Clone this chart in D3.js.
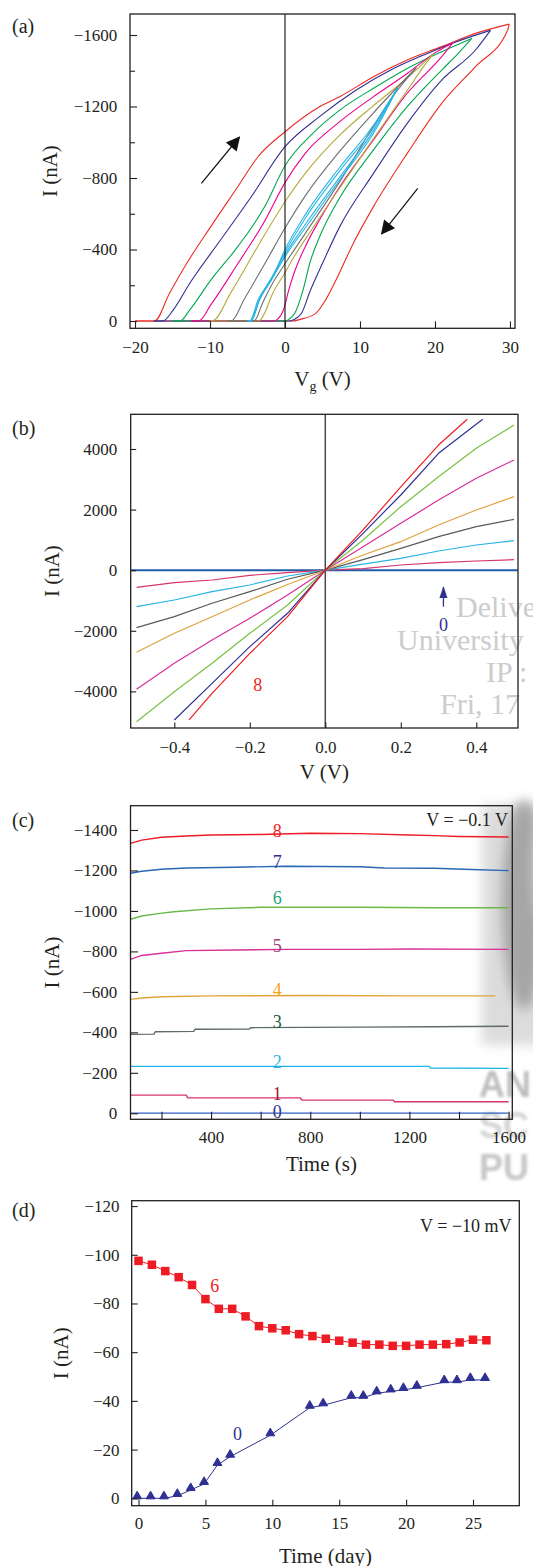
<!DOCTYPE html>
<html>
<head>
<meta charset="utf-8">
<script src="https://cdn.jsdelivr.net/npm/d3@7"></script>
<style>
  body { margin: 0; background: #fff; }
  svg { display: block; }
</style>
</head>
<body>
<svg id="fig" width="533" height="1566"></svg>
<script>
// ---------- (a) transfer loops: I (nA) vs Vg (V), one loop per sweep range ----------
const loopColors = ["#ee2a24", "#2e3192", "#00a651", "#ec008c", "#b5a83a", "#6d6e71", "#27b4e6", "#27b4e6"];
const loopUp = [
  [[-20,0],[-17.4,0],[-15.4,-155],[-13.1,-323],[-9.9,-528],[-6.3,-751],[-3.6,-919],[0,-1059],[4.6,-1199],[7.3,-1255],[11.8,-1367],[16.3,-1460],[20.9,-1535],[25.4,-1609],[29.9,-1661]],
  [[-17.5,0],[-16.3,0],[-14.9,-62],[-12.7,-211],[-8.6,-453],[-4.5,-695],[0,-975],[4.6,-1143],[9.5,-1292],[14.1,-1404],[18.6,-1490],[22.7,-1560],[27.4,-1626]],
  [[-15,0],[-14,0],[-12.7,-62],[-9.9,-229],[-6.3,-416],[-2.7,-640],[0,-869],[3.7,-1050],[7.3,-1180],[11.8,-1302],[16.3,-1413],[20.9,-1507],[24.9,-1581]],
  [[-12.5,0],[-11.5,0],[-9.9,-90],[-6.3,-320],[-2.7,-560],[0,-774],[2.7,-938],[7.3,-1115],[11.8,-1255],[16.3,-1385],[20,-1500],[22.4,-1557]],
  [[-10,0],[-9.7,0],[-7.2,-160],[-3.6,-420],[0,-667],[2.7,-826],[7.3,-1040],[11.8,-1205],[16.3,-1360],[19.8,-1495]],
  [[-7.5,0],[-7.2,0],[-5.4,-125],[-2.7,-320],[0,-520],[2.7,-700],[7.3,-950],[11.8,-1165],[17.5,-1417]],
  [[-5,0],[-4.7,0],[-3.6,-117],[-1.8,-240],[0,-385],[2.7,-575],[7.3,-840],[11.8,-1080],[15,-1302]],
  [[-5,0],[-4.5,0],[-3.4,-120],[-1.6,-250],[0,-400],[2.7,-595],[7.3,-860],[11.8,-1095],[15,-1302]]
];
const loopDown = [
  [[29.9,-1661],[29.7,-1628],[25.4,-1423],[20.9,-1218],[16.3,-938],[11.8,-640],[9.1,-434],[6.8,-229],[5.4,-117],[4.1,-43],[2,-9],[1,0],[-20,0]],
  [[27.4,-1626],[25.4,-1516],[20.9,-1348],[16.3,-1106],[11.8,-826],[7.3,-528],[5,-323],[3.4,-173],[2.2,-43],[1.2,-9],[0.5,0],[-17.5,0]],
  [[24.9,-1581],[23.1,-1497],[20.9,-1404],[16.3,-1199],[11.8,-957],[7.3,-690],[4.8,-490],[3.3,-323],[2.4,-173],[1.3,-43],[0.5,-9],[0,0],[-15,0]],
  [[22.4,-1557],[20.9,-1479],[16.3,-1274],[11.8,-1013],[7.3,-751],[4.6,-565],[2.7,-416],[1.2,-267],[0.5,-173],[-0.2,-62],[-1,-9],[-1.5,0],[-12.5,0]],
  [[19.8,-1495],[18.6,-1430],[16.3,-1290],[11.8,-1020],[7.3,-745],[3.7,-520],[1,-345],[0,-270],[-1.8,-140],[-2.7,-45],[-3.2,-9],[-3.5,0],[-10,0]],
  [[17.5,-1417],[14.1,-1240],[11.8,-1090],[7.3,-780],[2.7,-490],[0,-320],[-1.8,-200],[-3.2,-80],[-3.8,-15],[-4.2,0],[-7.5,0]],
  [[15,-1302],[11.8,-1050],[7.3,-790],[2.7,-520],[0,-360],[-1.8,-230],[-3.6,-100],[-4.3,-20],[-4.6,0],[-5,0]],
  [[15,-1302],[11.8,-1065],[7.3,-805],[2.7,-540],[0,-372],[-1.8,-240],[-3.5,-110],[-4.2,-25],[-4.5,0],[-5,0]]
];
const sweepArrows = [ [[-11.15,-770],[-6.1,-1028]], [[17.7,-742],[12.9,-488]] ];
const vgTicks = [-20, -10, 0, 10, 20, 30];
const iaTicks = [0, -400, -800, -1200, -1600];
const iaMinor = [-200, -600, -1000, -1400];

// ---------- (b) I-V curves, states 0..8 ----------
const ivColors = ["#1f5ea8", "#d6336b", "#27b4e6", "#58595b", "#dfa23b", "#d62f9b", "#7ac143", "#2e3192", "#ed1c24"];
const ivCurves = [
  [[-0.515,0],[0.51,0]],
  [[-0.5,-565],[-0.4,-412],[-0.3,-323],[-0.2,-169],[-0.1,-80],[0,0],[0.1,50],[0.2,172],[0.3,248],[0.4,304],[0.5,348]],
  [[-0.5,-1204],[-0.4,-983],[-0.3,-709],[-0.2,-488],[-0.1,-191],[0,0],[0.1,200],[0.2,392],[0.3,634],[0.4,832],[0.5,975]],
  [[-0.5,-1897],[-0.4,-1534],[-0.3,-1092],[-0.2,-709],[-0.1,-300],[0,0],[0.1,350],[0.2,722],[0.3,1106],[0.4,1436],[0.5,1679]],
  [[-0.5,-2710],[-0.4,-2083],[-0.3,-1534],[-0.2,-983],[-0.1,-470],[0,0],[0.1,500],[0.2,941],[0.3,1492],[0.4,1987],[0.5,2426]],
  [[-0.5,-3931],[-0.4,-3073],[-0.3,-2303],[-0.2,-1587],[-0.1,-818],[0,0],[0.1,776],[0.2,1548],[0.3,2317],[0.4,3032],[0.5,3637]],
  [[-0.5,-4999],[-0.4,-4009],[-0.3,-3073],[-0.2,-2083],[-0.1,-1148],[0,0],[0.1,997],[0.2,2096],[0.3,3087],[0.4,4022],[0.5,4791]],
  [[-0.4,-4943],[-0.3,-3733],[-0.2,-2524],[-0.1,-1423],[0,0],[0.1,1217],[0.2,2482],[0.3,3857],[0.417,4980]],
  [[-0.361,-4943],[-0.3,-4063],[-0.2,-2743],[-0.1,-1534],[0,0],[0.1,1330],[0.2,2750],[0.3,4130],[0.376,4980]]
];
const vTicks = [-0.4, -0.2, 0, 0.2, 0.4];
const ibTicks = [-4000, -2000, 0, 2000, 4000];

// ---------- (c) retention at V = -0.1 V ----------
const rtColors = ["#2c5cc5", "#d8336f", "#1fb5e6", "#5f6b6b", "#e0a33a", "#d9309a", "#6ab845", "#2a67b5", "#ed1c24"];
const rtLabelColors = ["#2e3192", "#9b1b30", "#27b4e6", "#1d5b3b", "#f7a21b", "#9e3f78", "#1fa37f", "#2e3192", "#ed1c24"];
const rtLabels = ["0", "1", "2", "3", "4", "5", "6", "7", "8"];
const rtLabelPos = [[667,-8],[667,-99],[667,-255],[667,-453],[667,-609],[667,-828],[667,-1067],[667,-1243],[667,-1397]];
const rtSeries = [
  [[75,-1],[1600,-1]],
  [[75,-90],[300,-90],[305,-77],[760,-76],[765,-66],[1135,-65],[1140,-57],[1600,-57]],
  [[75,-232],[1280,-232],[1285,-224],[1600,-222]],
  [[75,-390],[170,-391],[175,-403],[330,-405],[335,-415],[555,-416],[560,-423],[1000,-426],[1300,-428],[1600,-430]],
  [[75,-563],[120,-570],[200,-576],[400,-580],[800,-582],[1200,-580],[1547,-580]],
  [[75,-761],[120,-780],[200,-791],[300,-804],[500,-807],[700,-810],[1000,-810],[1200,-812],[1600,-810]],
  [[75,-959],[120,-975],[194,-988],[250,-996],[400,-1010],[600,-1018],[1000,-1018],[1300,-1016],[1600,-1016]],
  [[75,-1186],[120,-1196],[200,-1206],[300,-1212],[500,-1216],[700,-1221],[1000,-1218],[1100,-1212],[1300,-1211],[1450,-1205],[1600,-1199]],
  [[75,-1334],[120,-1350],[200,-1364],[300,-1370],[400,-1375],[600,-1378],[800,-1384],[1000,-1382],[1200,-1375],[1300,-1372],[1400,-1368],[1600,-1365]]
];
const timeTicks = [200, 400, 600, 800, 1000, 1200, 1400, 1600];
const icTicks = [0, -200, -400, -600, -800, -1000, -1200, -1400];

// ---------- (d) long-term stability at V = -10 mV ----------
const daysState6 = [0,1,2,3,4,5,6,7,8,9,10,11,12,13,14,15,16,17,18,19,20,21,22,23,24,25,26];
const iState6 = [-97.5,-95.9,-93.3,-90.8,-87.6,-81.8,-77.8,-77.8,-74.7,-70.7,-69.8,-69.0,-67.4,-66.6,-65.5,-64.7,-63.9,-63.1,-63.1,-62.6,-62.6,-63.1,-63.1,-63.3,-64.0,-65.1,-64.9];
const daysState0 = [-0.1,0.9,1.9,2.9,3.9,4.9,5.9,6.85,9.85,12.8,13.8,15.9,16.8,17.8,18.85,19.8,20.8,22.85,23.8,24.8,25.9];
const iState0 = [0,0,0,-1,-3.4,-5.9,-13.7,-17.1,-25.9,-37.2,-38.2,-41.3,-41.3,-43.1,-43.9,-44.5,-45.4,-47.7,-47.7,-48.6,-48.6];
const dayTicks = [0, 5, 10, 15, 20, 25];
const idTicks = [0, -20, -40, -60, -80, -100, -120];

const FONT = "'Liberation Serif','DejaVu Serif','Times New Roman',serif";
const INK = "#231f20";
const svg = d3.select("#fig").attr("font-family", FONT);
const defs = svg.append("defs");
defs.append("filter").attr("id", "soft").attr("x", "-50%").attr("y", "-50%").attr("width", "200%").attr("height", "200%")
  .append("feGaussianBlur").attr("stdDeviation", 6);
defs.append("filter").attr("id", "soft2").attr("x", "-20%").attr("y", "-20%").attr("width", "140%").attr("height", "140%")
  .append("feGaussianBlur").attr("stdDeviation", 1.8);
defs.append("marker").attr("id", "headA").attr("viewBox", "0 0 10 10").attr("refX", 9).attr("refY", 5)
  .attr("markerWidth", 16).attr("markerHeight", 14).attr("markerUnits", "userSpaceOnUse").attr("orient", "auto")
  .append("path").attr("d", "M0,0 L10,5 L0,10 Z").attr("fill", "#111");

// ---- watermark remnants behind the figure ----
const wm = svg.append("g");
[["Delive", 456, 617], ["University", 397, 650], ["IP :", 486, 682], ["Fri, 17", 440, 714]].forEach(([t, x, y]) => {
  wm.append("text").attr("x", x).attr("y", y).attr("font-size", 30).attr("fill", "#cccccc").text(t);
});
wm.append("rect").attr("x", 482).attr("y", 805).attr("width", 70).attr("height", 240).attr("fill", "#dcdcdc").attr("filter", "url(#soft)");
wm.append("ellipse").attr("cx", 524).attr("cy", 905).attr("rx", 22).attr("ry", 105).attr("fill", "#a6a6a6").attr("filter", "url(#soft)");
wm.append("ellipse").attr("cx", 542).attr("cy", 870).attr("rx", 9).attr("ry", 50).attr("fill", "#d0d0d0").attr("filter", "url(#soft)");
[["AN", 1097, "#bdbdbd"], ["SC", 1138, "#d4d4d4"], ["PU", 1180, "#c6c6c6"]].forEach(([t, y, c]) => {
  wm.append("text").attr("x", 479).attr("y", y).attr("font-family", "'Liberation Sans',sans-serif")
    .attr("font-weight", "bold").attr("font-size", 36).attr("fill", c).attr("filter", "url(#soft2)").text(t);
});

// ---- shared panel helpers ----
let clipN = 0;
function makePanel(box, xDomain, yDomain) {
  const x = d3.scaleLinear().domain(xDomain).range([box.left, box.right]);
  const y = d3.scaleLinear().domain(yDomain).range([box.bottom, box.top]);
  const id = "clip" + (clipN++);
  defs.append("clipPath").attr("id", id).append("rect")
    .attr("x", box.left).attr("y", box.top).attr("width", box.right - box.left).attr("height", box.bottom - box.top);
  const g = svg.append("g");
  const plot = g.append("g").attr("clip-path", `url(#${id})`);
  return { x, y, g, plot, box };
}

function styleAxis(sel) {
  sel.select(".domain").remove();
  sel.selectAll("line").attr("stroke", INK).attr("stroke-width", 1.1);
  sel.selectAll("text").attr("font-family", FONT).attr("font-size", 17).attr("fill", INK);
}

function drawAxes(p, o) {
  const b = p.box;
  p.g.append("g").attr("transform", `translate(0,${b.bottom})`)
    .call(d3.axisBottom(p.x).tickValues(o.xTicks).tickSize(-o.tick).tickPadding(o.xPad).tickFormat(o.xFormat))
    .call(styleAxis);
  p.g.append("g").attr("transform", `translate(${b.left},0)`)
    .call(d3.axisLeft(p.y).tickValues(o.yTicks).tickSize(-o.tick).tickPadding(o.yPad).tickFormat(o.yFormat))
    .call(styleAxis);
  if (o.yMinor) p.g.append("g").attr("transform", `translate(${b.left},0)`)
    .call(d3.axisLeft(p.y).tickValues(o.yMinor).tickSize(-5).tickFormat(""))
    .call(styleAxis);
  p.g.append("rect").attr("x", b.left).attr("y", b.top)
    .attr("width", b.right - b.left).attr("height", b.bottom - b.top)
    .attr("fill", "none").attr("stroke", INK).attr("stroke-width", 1.3);
  p.g.append("text").attr("x", 12).attr("y", o.letterY).attr("font-size", 20).attr("fill", INK).text(o.letter);
  p.g.append("text").attr("transform", `translate(${o.yTitleX},${(b.top + b.bottom) / 2}) rotate(-90)`)
    .attr("text-anchor", "middle").attr("font-size", 21).attr("fill", INK).text("I (nA)");
  const xt = p.g.append("text").attr("x", (b.left + b.right) / 2).attr("y", o.xTitleY)
    .attr("text-anchor", "middle").attr("font-size", 21).attr("fill", INK);
  if (o.xSub) {
    xt.append("tspan").text(o.xTitle);
    xt.append("tspan").attr("font-size", 14).attr("dy", 5).text(o.xSub);
    xt.append("tspan").attr("dy", -5).text(" (V)");
  } else {
    xt.text(o.xTitle);
  }
}

const fmtInt = d3.format("d");
const fmt1 = d3.format(".1f");

// ================= (a) =================
const pa = makePanel({ left: 130, right: 515, top: 14, bottom: 328.3 }, [-20.67, 30.67], [40.8, -1717.5]);
const lineA = d3.line().x(d => pa.x(d[0])).y(d => pa.y(d[1])).curve(d3.curveMonotoneX);
loopUp.forEach((up, k) => {
  const down = loopDown[k].slice().reverse();
  [up, down].forEach(branch => {
    pa.plot.append("path").attr("d", lineA(branch))
      .attr("fill", "none").attr("stroke", loopColors[k]).attr("stroke-width", 1.1).attr("stroke-linejoin", "round");
  });
});
pa.plot.append("line").attr("x1", pa.x(0)).attr("x2", pa.x(0)).attr("y1", pa.box.top).attr("y2", pa.box.bottom)
  .attr("stroke", "#111").attr("stroke-width", 1.1);
sweepArrows.forEach(([a, b]) => {
  pa.g.append("line").attr("x1", pa.x(a[0])).attr("y1", pa.y(a[1])).attr("x2", pa.x(b[0])).attr("y2", pa.y(b[1]))
    .attr("stroke", "#111").attr("stroke-width", 1.2).attr("marker-end", "url(#headA)");
});
drawAxes(pa, {
  xTicks: vgTicks, yTicks: iaTicks, yMinor: iaMinor, tick: 7, xPad: 12.3, yPad: 12.7,
  xFormat: fmtInt, yFormat: fmtInt, letter: "(a)", letterY: 33, yTitleX: 57, xTitleY: 386,
  xTitle: "V", xSub: "g"
});

// ================= (b) =================
const pb = makePanel({ left: 130.7, right: 518, top: 414.3, bottom: 728 }, [-0.5155, 0.5105], [-5208, 5145]);
const lineB = d3.line().x(d => pb.x(d[0])).y(d => pb.y(d[1]));
pb.plot.append("line").attr("x1", pb.x(0)).attr("x2", pb.x(0)).attr("y1", pb.box.top).attr("y2", pb.box.bottom)
  .attr("stroke", "#4a4a4a").attr("stroke-width", 1.5);
ivCurves.forEach((c, k) => {
  pb.plot.append("path").attr("d", lineB(c)).attr("fill", "none")
    .attr("stroke", ivColors[k]).attr("stroke-width", k === 0 ? 2 : 1.2).attr("stroke-linejoin", "round");
});
pb.g.append("text").attr("x", pb.x(-0.179)).attr("y", pb.y(-3789)).attr("dy", "0.35em").attr("text-anchor", "middle")
  .attr("font-size", 18).attr("fill", "#ed1c24").text("8");
pb.g.append("line").attr("x1", pb.x(0.313)).attr("x2", pb.x(0.313)).attr("y1", pb.y(-1205)).attr("y2", pb.y(-560))
  .attr("stroke", "#2e3192").attr("stroke-width", 1.3);
pb.g.append("path").attr("fill", "#2e3192")
  .attr("d", `M${pb.x(0.313)},${pb.y(-520)} l-4,12 l8,0 Z`);
pb.g.append("text").attr("x", pb.x(0.313)).attr("y", pb.y(-1808)).attr("dy", "0.35em").attr("text-anchor", "middle")
  .attr("font-size", 18).attr("fill", "#2e3192").text("0");
drawAxes(pb, {
  xTicks: vTicks, yTicks: ibTicks, tick: 5.5, xPad: 13.2, yPad: 13.4,
  xFormat: fmt1, yFormat: fmtInt, letter: "(b)", letterY: 435, yTitleX: 59, xTitleY: 779,
  xTitle: "V (V)"
});

// ================= (c) =================
const pc = makePanel({ left: 130.5, right: 512.3, top: 805.7, bottom: 1119.3 }, [75, 1615], [29.7, -1520]);
const lineC = d3.line().x(d => pc.x(d[0])).y(d => pc.y(d[1]));
rtSeries.forEach((s, k) => {
  pc.plot.append("path").attr("d", lineC(s)).attr("fill", "none")
    .attr("stroke", rtColors[k]).attr("stroke-width", 1.4).attr("stroke-linejoin", "round");
});
rtLabels.forEach((t, k) => {
  pc.g.append("text").attr("x", pc.x(rtLabelPos[k][0])).attr("y", pc.y(rtLabelPos[k][1])).attr("dy", "0.35em")
    .attr("text-anchor", "middle").attr("font-size", 18).attr("fill", rtLabelColors[k]).text(t);
});
pc.g.append("text").attr("x", 508).attr("y", 826).attr("text-anchor", "end").attr("font-size", 18).attr("fill", INK).text("V = \u22120.1 V");
drawAxes(pc, {
  xTicks: timeTicks, yTicks: icTicks, tick: 7.5, xPad: 11.9, yPad: 13.2,
  xFormat: d => (d % 400 === 0 ? fmtInt(d) : ""), yFormat: fmtInt,
  letter: "(c)", letterY: 827, yTitleX: 59, xTitleY: 1171, xTitle: "Time (s)"
});

// ================= (d) =================
const pd = makePanel({ left: 131.7, right: 519.3, top: 1200.7, bottom: 1505.7 }, [-0.51, 28.46], [3.04, -122.2]);
const lineD = d3.line().x(d => pd.x(d[0])).y(d => pd.y(d[1]));
const s6 = daysState6.map((d, i) => [d, iState6[i]]);
const s0 = daysState0.map((d, i) => [d, iState0[i]]);
pd.plot.append("path").attr("d", lineD(s6)).attr("fill", "none").attr("stroke", "#ed1c24").attr("stroke-width", 1);
pd.plot.append("path").attr("d", lineD(s0)).attr("fill", "none").attr("stroke", "#2e3192").attr("stroke-width", 1);
pd.plot.selectAll("rect.sq").data(s6).join("rect").attr("class", "sq")
  .attr("x", d => pd.x(d[0]) - 4.25).attr("y", d => pd.y(d[1]) - 4.25)
  .attr("width", 8.5).attr("height", 8.5).attr("fill", "#ed1c24");
const tri = d3.symbol(d3.symbolTriangle).size(34);
pd.plot.selectAll("path.tri").data(s0).join("path").attr("class", "tri")
  .attr("transform", d => `translate(${pd.x(d[0])},${pd.y(d[1]) - 2})`)
  .attr("d", tri).attr("fill", "#2e3192").attr("stroke", "#2e3192").attr("stroke-width", 1).attr("stroke-linejoin", "round");
pd.g.append("text").attr("x", pd.x(5.7)).attr("y", pd.y(-87.2)).attr("dy", "0.35em").attr("text-anchor", "middle")
  .attr("font-size", 18).attr("fill", "#ed1c24").text("6");
pd.g.append("text").attr("x", pd.x(7.4)).attr("y", pd.y(-26.7)).attr("dy", "0.35em").attr("text-anchor", "middle")
  .attr("font-size", 18).attr("fill", "#2e3192").text("0");
pd.g.append("text").attr("x", 511.6).attr("y", 1232).attr("text-anchor", "end").attr("font-size", 18).attr("fill", INK).text("V = \u221210 mV");
drawAxes(pd, {
  xTicks: dayTicks, yTicks: idTicks, tick: 6, xPad: 11.5, yPad: 12.1,
  xFormat: fmtInt, yFormat: fmtInt, letter: "(d)", letterY: 1217, yTitleX: 68, xTitleY: 1563,
  xTitle: "Time (day)"
});
</script>
</body>
</html>
